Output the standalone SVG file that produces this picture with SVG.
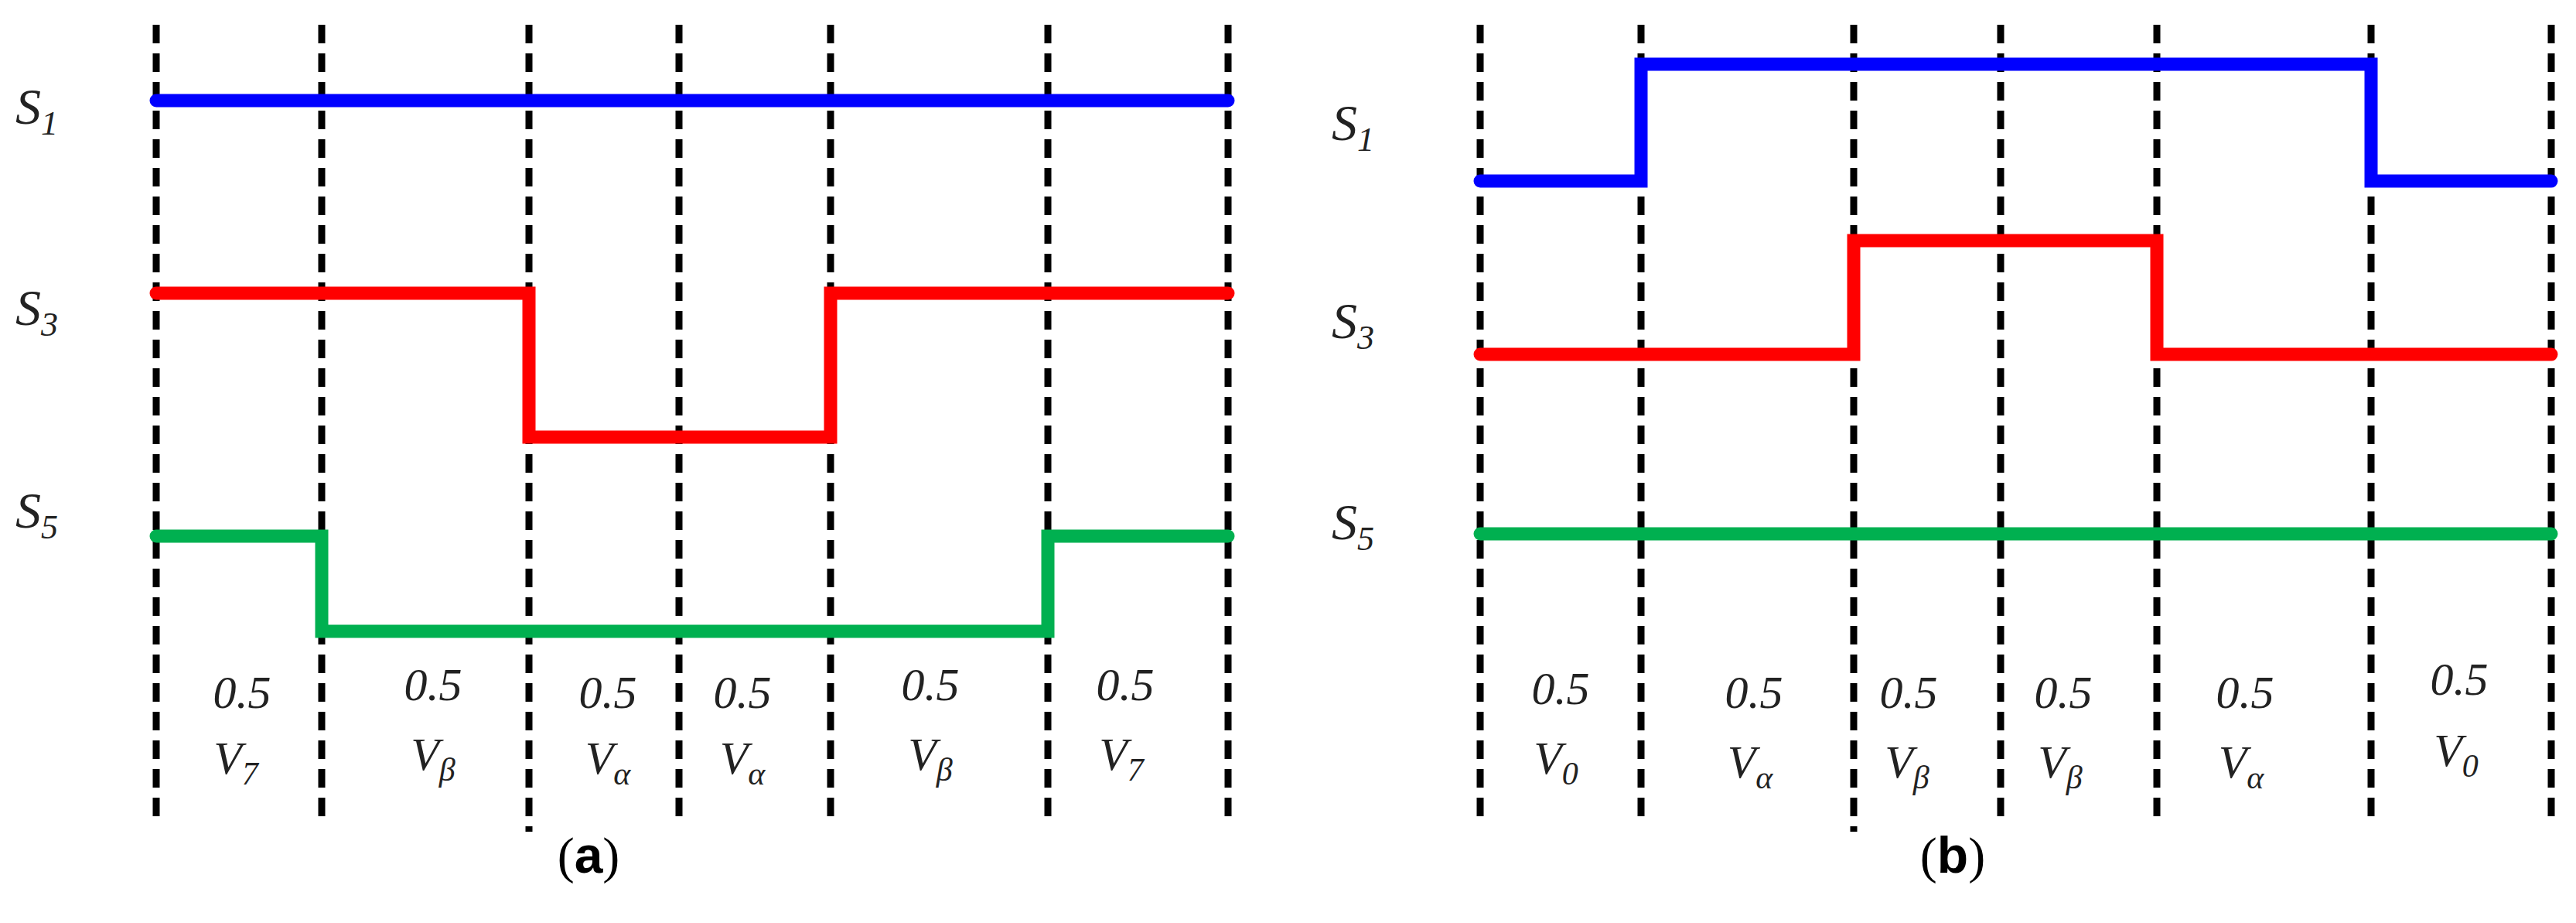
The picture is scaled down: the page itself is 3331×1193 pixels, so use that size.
<svg xmlns="http://www.w3.org/2000/svg" width="3331" height="1193" viewBox="0 0 3331 1193">
<style>
.d{stroke:#000;stroke-width:9;stroke-dasharray:24 13;fill:none}
.w{fill:none;stroke-width:17;stroke-linejoin:miter;stroke-linecap:round}
.t{font-family:"Liberation Serif",serif;font-style:italic;font-size:66px;fill:#222}
.v{font-family:"Liberation Serif",serif;font-style:italic;font-size:60px;fill:#222;text-anchor:middle}
.c{font-family:"Liberation Serif",serif;font-size:66px;fill:#000;text-anchor:middle}
</style>
<rect width="3331" height="1193" fill="#fff"/>
<g id="grid">
<path class="d" d="M202 32V1066M416 32V1066M684 32V1075M878 32V1066M1074 32V1066M1355 32V1066M1588 32V1066"/>
<path class="d" d="M1914 32V1066M2122 32V1066M2397 32V1075M2587 32V1066M2789 32V1066M3066 32V1066M3299 32V1066"/>
</g>
<g id="connectors">
<path class="w" stroke="#0000ff" d="M202 130H1588"/>
<path class="w" stroke="#ff0000" d="M202 379H684V565H1074V379H1588"/>
<path class="w" stroke="#00b050" d="M202 693H416V816H1355V693H1588"/>
<path class="w" stroke="#0000ff" d="M1914 234H2122V83H3066V234H3299"/>
<path class="w" stroke="#ff0000" d="M1914 458H2397V311H2789V458H3299"/>
<path class="w" stroke="#00b050" d="M1914 690H3299"/>
</g>
<g id="labels-a">
<text class="t" x="20" y="160">S<tspan font-size="44" dy="14">1</tspan></text>
<text class="t" x="20" y="420">S<tspan font-size="44" dy="14">3</tspan></text>
<text class="t" x="20" y="682">S<tspan font-size="44" dy="14">5</tspan></text>
<text class="v" x="313" y="915">0.5</text><text class="v" x="305" y="1000">V<tspan font-size="42" dy="14">7</tspan></text>
<text class="v" x="560" y="905">0.5</text><text class="v" x="560" y="995">V<tspan font-size="42" dy="14">β</tspan></text>
<text class="v" x="786" y="915">0.5</text><text class="v" x="786" y="1000">V<tspan font-size="42" dy="14">α</tspan></text>
<text class="v" x="960" y="915">0.5</text><text class="v" x="960" y="1000">V<tspan font-size="42" dy="14">α</tspan></text>
<text class="v" x="1203" y="905">0.5</text><text class="v" x="1203" y="995">V<tspan font-size="42" dy="14">β</tspan></text>
<text class="v" x="1455" y="905">0.5</text><text class="v" x="1450" y="995">V<tspan font-size="42" dy="14">7</tspan></text>
<text class="c" x="761" y="1128">(<tspan font-weight="bold" font-family="Liberation Sans,sans-serif">a</tspan>)</text>
</g>
<g id="labels-b">
<text class="t" x="1722" y="181">S<tspan font-size="44" dy="14">1</tspan></text>
<text class="t" x="1722" y="437">S<tspan font-size="44" dy="14">3</tspan></text>
<text class="t" x="1722" y="697">S<tspan font-size="44" dy="14">5</tspan></text>
<text class="v" x="2018" y="910">0.5</text><text class="v" x="2012" y="1000">V<tspan font-size="42" dy="14">0</tspan></text>
<text class="v" x="2268" y="915">0.5</text><text class="v" x="2263" y="1005">V<tspan font-size="42" dy="14">α</tspan></text>
<text class="v" x="2468" y="915">0.5</text><text class="v" x="2466" y="1005">V<tspan font-size="42" dy="14">β</tspan></text>
<text class="v" x="2668" y="915">0.5</text><text class="v" x="2664" y="1005">V<tspan font-size="42" dy="14">β</tspan></text>
<text class="v" x="2903" y="915">0.5</text><text class="v" x="2898" y="1005">V<tspan font-size="42" dy="14">α</tspan></text>
<text class="v" x="3180" y="898">0.5</text><text class="v" x="3176" y="990">V<tspan font-size="42" dy="14">0</tspan></text>
<text class="c" x="2525" y="1128">(<tspan font-weight="bold" font-family="Liberation Sans,sans-serif">b</tspan>)</text>
</g>
</svg>
